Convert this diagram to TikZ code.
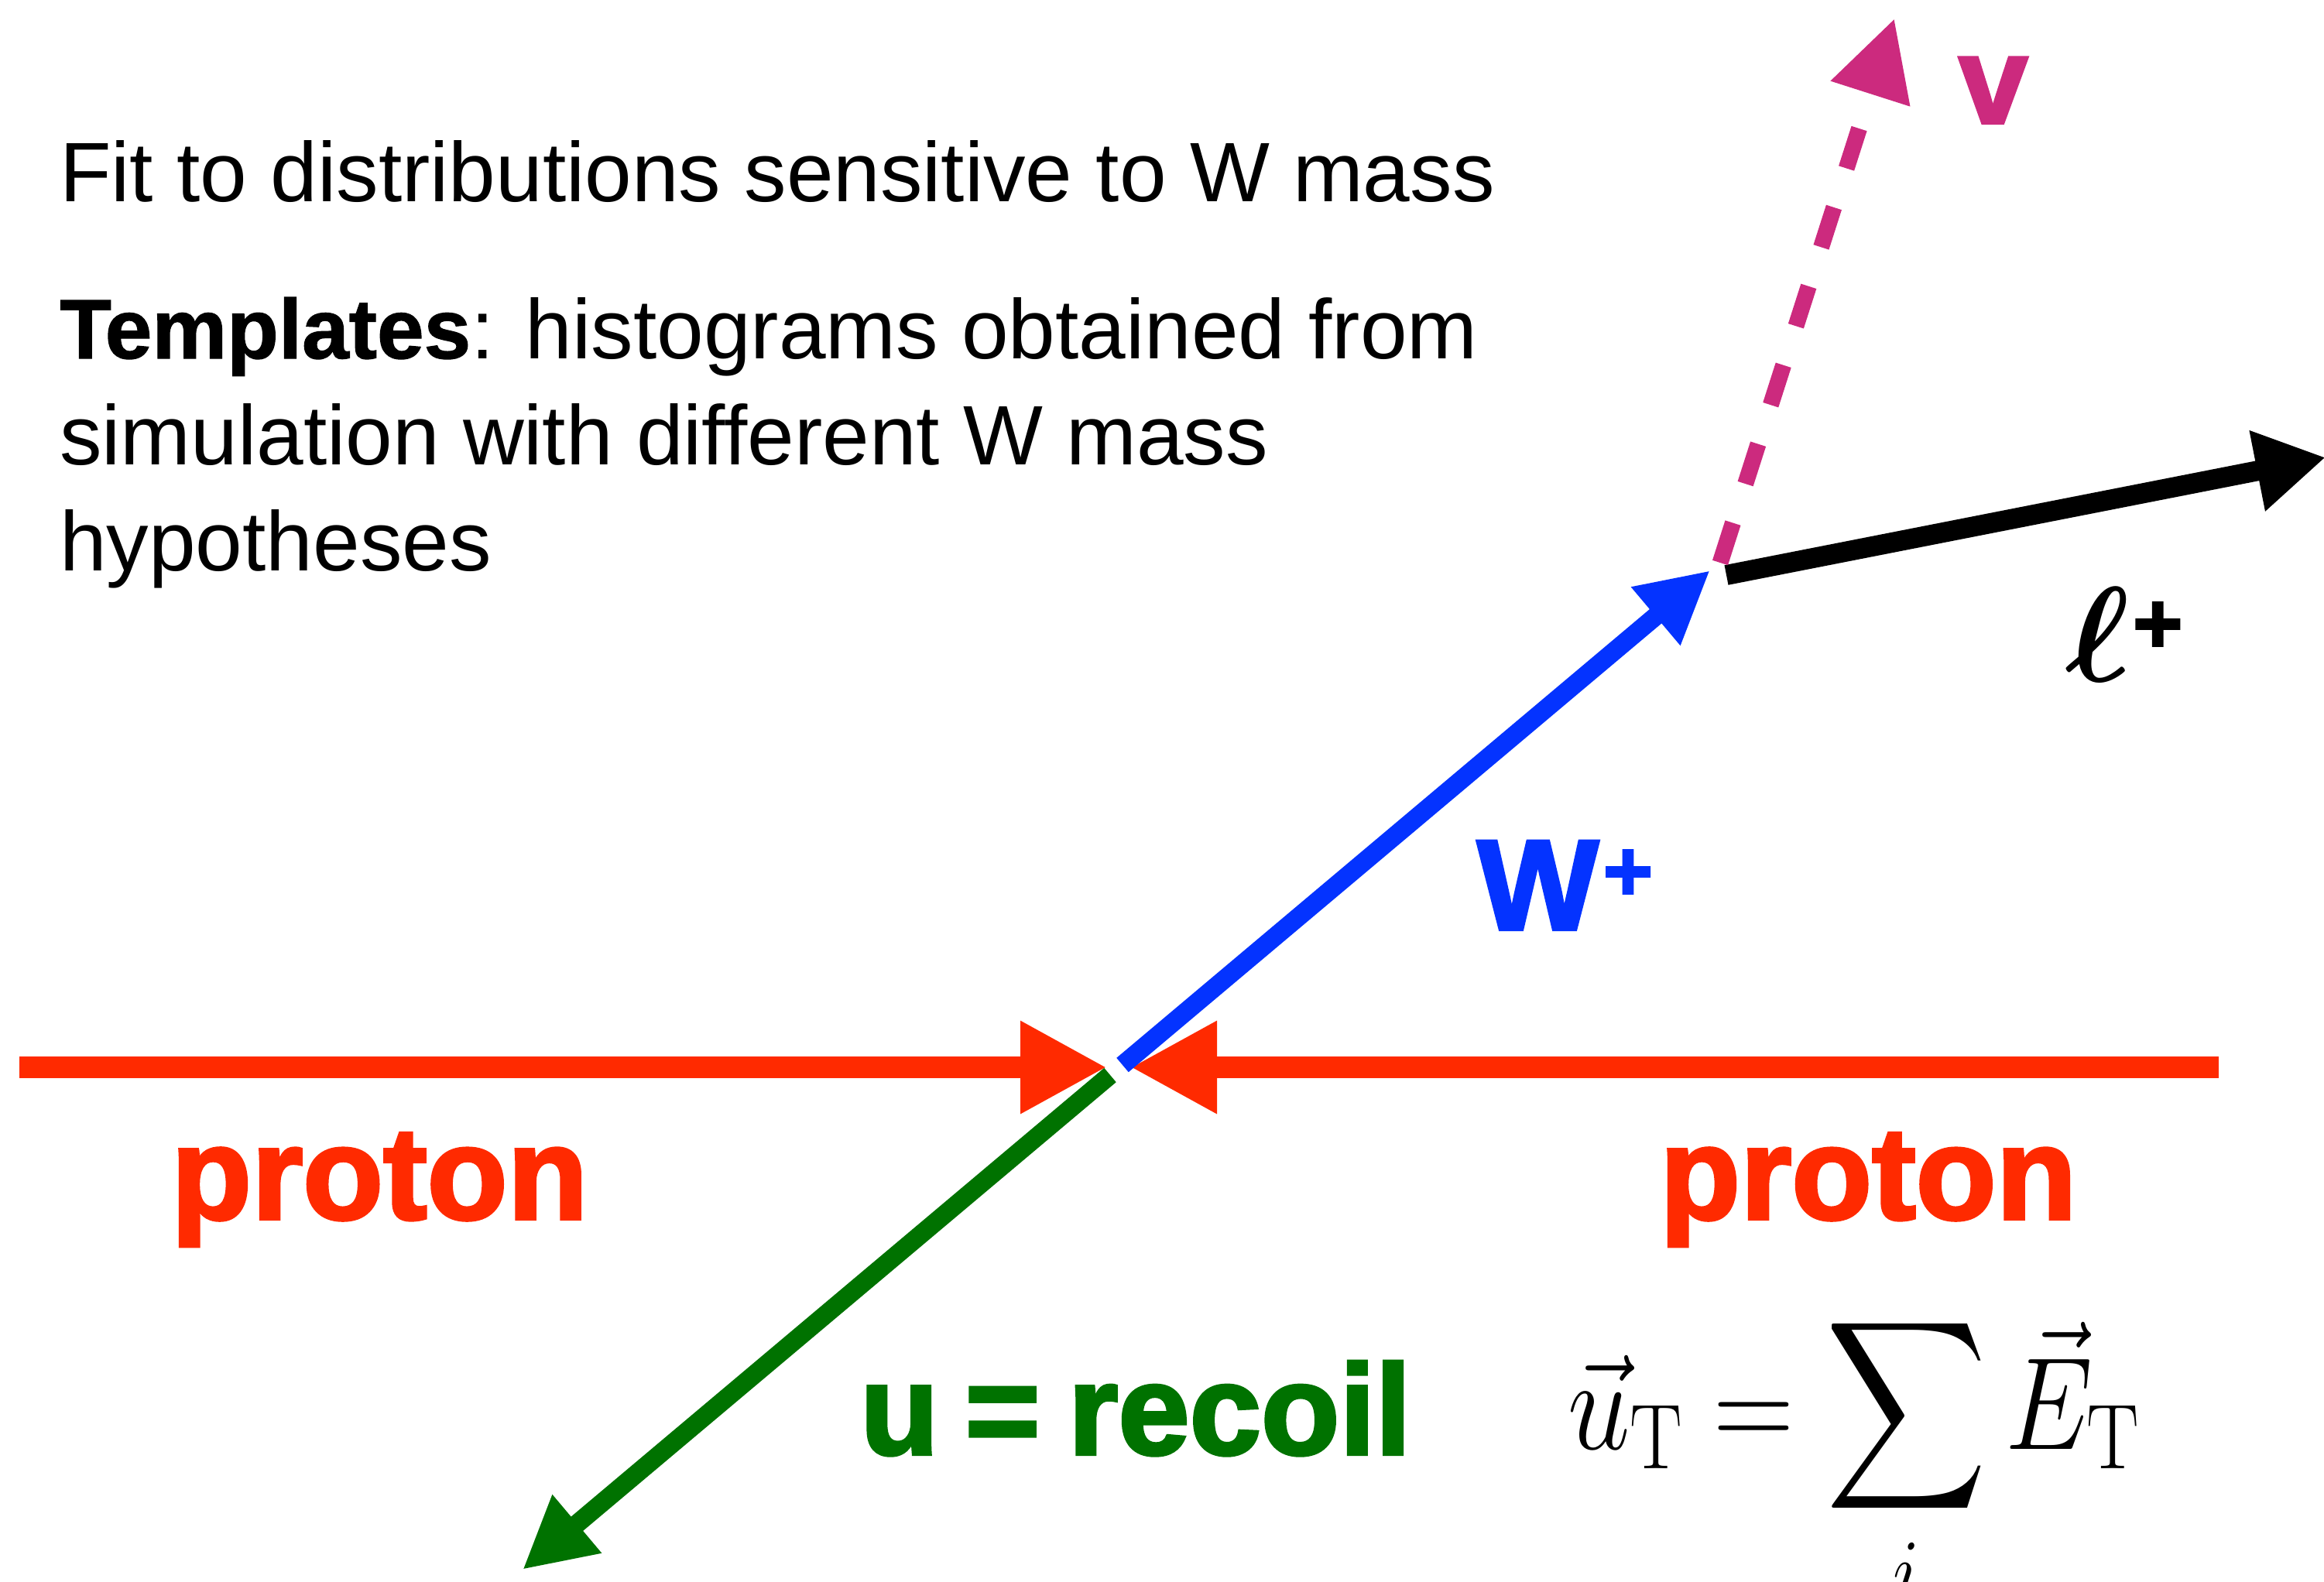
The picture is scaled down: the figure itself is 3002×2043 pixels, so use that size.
\RequirePackage{fix-cm}
\documentclass[tikz,border=0pt]{standalone}
\DeclareFontShape{OMX}{cmex}{m}{n}{<-> cmex10}{}
\usepackage[no-math]{fontspec}
\setmainfont{Liberation Sans}
\newfontfamily\heavyfont{Liberation Sans Bold}[FakeBold=2.5]
\newfontfamily\semiheavy{Liberation Sans Bold}[FakeBold=1.2]
\usepackage{bm}
\usepackage{graphicx}
\usetikzlibrary{arrows.meta}
\definecolor{pred}{RGB}{255,42,0}
\definecolor{wblue}{RGB}{4,51,255}
\definecolor{rgreen}{RGB}{0,114,0}
\definecolor{numag}{RGB}{204,42,126}
\begin{document}
\begin{tikzpicture}[x=1pt,y=-1pt,
  txt/.style={inner sep=0pt, anchor=base west, font=\fontsize{109}{130}\selectfont},
  lbl/.style={inner sep=0pt, anchor=base west, font=\fontsize{170}{200}\selectfont\heavyfont},
  beam/.style={line width=28pt, draw=pred, -{Triangle[length=112pt,width=112pt,fill=pred]}},
  wvec/.style={line width=24pt, draw=wblue, -{Triangle[length=92pt,width=92pt,fill=wblue]}},
  uvec/.style={line width=24pt, draw=rgreen, -{Triangle[length=92pt,width=92pt,fill=rgreen]}},
  lvec/.style={line width=26pt, draw=black, -{Triangle[length=90pt,width=100pt,fill=black]}},
  nuvec/.style={line width=21pt, draw=numag, dash pattern=on 54pt off 53pt, -{Triangle[length=102pt,width=102pt,fill=numag]}},
]
\useasboundingbox (0,0) rectangle (3002,2043);
% text block
\node[txt] (t1) at (77,260) {Fit to distributions sensitive to W mass};
\node[txt] (t2) at (77,463) {{\semiheavy Templates}: histograms obtained from};
\node[txt] (t3) at (77,600) {simulation with different W mass};
\node[txt] (t4) at (77,737) {hypotheses};
% coordinates
\coordinate (pl) at (25,1379);
\coordinate (pltip) at (1430,1379);
\coordinate (pr) at (2866,1379);
\coordinate (prtip) at (1460,1379);
\coordinate (wst) at (1450,1376);
\coordinate (wtip) at (2209,737);
\coordinate (ust) at (1434,1389);
\coordinate (utip) at (675,2028);
\coordinate (lst) at (2230,743);
\coordinate (ltip) at (3004,591);
\coordinate (nst) at (2222,727);
\coordinate (ntip) at (2447,24);
% arrows
\draw[beam] (pl) -- (pltip);
\draw[beam] (pr) -- (prtip);
\draw[wvec] (wst) -- (wtip);
\draw[uvec] (ust) -- (utip);
\draw[lvec] (lst) -- (ltip);
\draw[nuvec] (nst) -- (ntip);
% labels
\node[lbl, text=pred] (p1) at (221,1575) {proton};
\node[lbl, text=pred] (p2) at (2144,1575) {proton};
\node[lbl, text=wblue, font=\fontsize{166}{200}\selectfont\heavyfont] (wl) at (1908,1201) {W\hspace{6pt}\raisebox{38pt}{\fontsize{110}{110}\selectfont +}};
\node[lbl, text=rgreen, font=\fontsize{166}{200}\selectfont\heavyfont] (ul) at (1111,1879) {u\hspace{-12pt} = \hspace{-10pt}recoil};
\node[lbl, text=numag, font=\fontsize{160}{200}\selectfont\heavyfont] (nul) at (2530,159) {v};
\node[lbl, text=black, font=\fontsize{175}{200}\selectfont\heavyfont] (ll) at (2668,880) {$\bm{\ell}$\hspace{4pt}\raisebox{37pt}{\fontsize{110}{110}\selectfont +}};
% formula
\node[inner sep=0pt, anchor=base west, font=\fontsize{170}{200}\selectfont] (eq) at (2025,1872)
  {\scalebox{0.85}[1]{$\displaystyle \vec{u}_{\mathrm{T}} = \sum_{i} \vec{E}_{\mathrm{T}}$}};
\end{tikzpicture}
\end{document}
